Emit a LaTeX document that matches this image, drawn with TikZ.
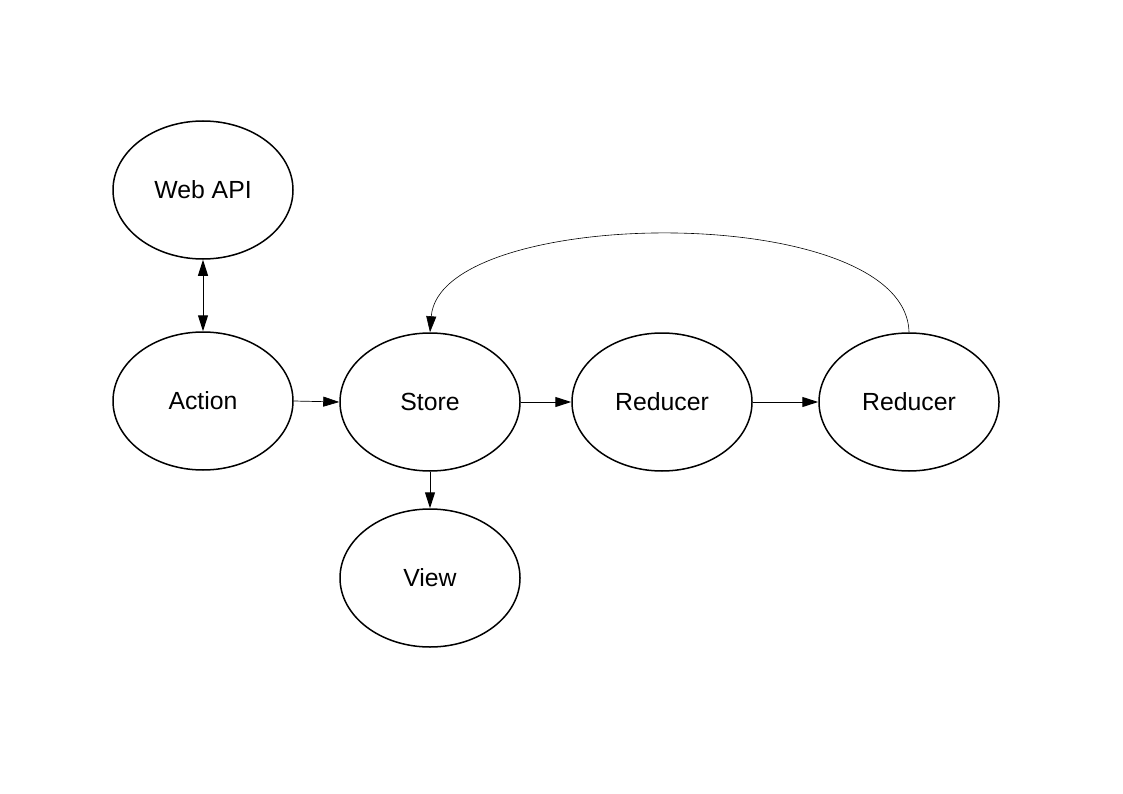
\documentclass[tikz,border=0pt]{standalone}
\usepackage{fontspec}
\setmainfont{Liberation Sans}
\usetikzlibrary{arrows.meta,shapes.geometric}
\begin{document}
\begin{tikzpicture}[x=1pt,y=-1pt,
  bubble/.style={draw=black,line width=1.5pt,ellipse,minimum width=180pt,minimum height=138pt,inner sep=0pt,font=\fontsize{24.8}{29}\selectfont},
  conn/.style={line width=1pt,-{Triangle[length=16pt,width=10pt]}},
  thinconn/.style={line width=0.6pt,-{Triangle[length=16pt,width=10pt]}}]
\useasboundingbox (0,0) rectangle (1123,794);
\node[bubble] (web) at (203,190) {Web API};
\node[bubble] (action) at (203,401) {Action};
\node[bubble] (store) at (430,402) {Store};
\node[bubble] (red1) at (662,402) {Reducer};
\node[bubble] (red2) at (909,402) {Reducer};
\node[bubble] (view) at (430,578) {View};
\draw[line width=1pt,{Triangle[length=16pt,width=10pt]}-{Triangle[length=16pt,width=10pt]}] (web) -- (action);
\draw[conn,line width=0.7pt] (action.east) -- (store.west);
\draw[conn] (store) -- (red1);
\draw[conn] (red1) -- (red2);
\draw[conn] (store) -- (view);
\draw[thinconn] (red2.north) .. controls (906,200) and (440,205) .. (store.north);
\end{tikzpicture}
\end{document}
